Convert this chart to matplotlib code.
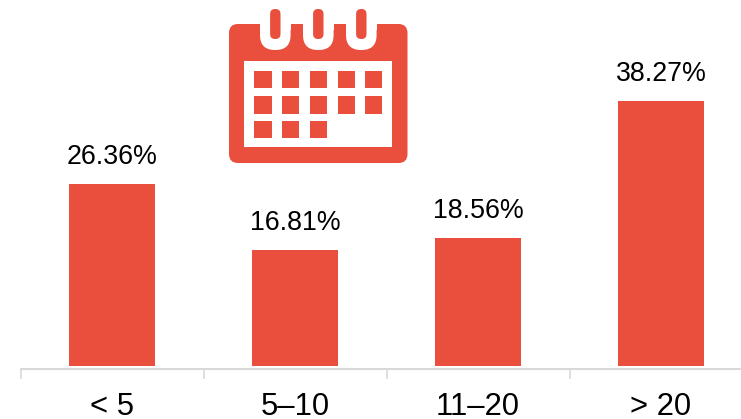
import matplotlib
matplotlib.use("Agg")
import matplotlib.pyplot as plt
from matplotlib.patches import Rectangle, FancyBboxPatch
from matplotlib.transforms import Affine2D

categories = ["< 5", "5–10", "11–20", "> 20"]
values = [26.36, 16.81, 18.56, 38.27]
RED = "#EA4F3D"
W, H = 741, 419

plt.rcParams["font.family"] = ["Liberation Sans", "DejaVu Sans"]
fig = plt.figure(figsize=(W / 100, H / 100), dpi=100)
left, bottom_px = 20.5, 366.3
ax = fig.add_axes([left / W, (H - bottom_px) / H, (W - left) / W, (bottom_px - 10) / H])
xs = list(range(len(categories)))
bars = ax.bar(xs, values, width=0.475, color=RED, linewidth=0)
ax.set_xlim(-0.5, 3.437)
ax.set_ylim(0, (bottom_px - 10) / 6.93)
for x, v in zip(xs, values):
    ax.annotate(f"{v:.2f}%", (x, v), xytext=(0, 9.8), textcoords="offset points",
                ha="center", va="bottom", fontsize=19.3, color="black")
for s in ["top", "left", "right"]:
    ax.spines[s].set_visible(False)
ax.spines["bottom"].set_color("#D9D9D9")
ax.spines["bottom"].set_linewidth(1.5)
ax.spines["bottom"].set_position(("outward", 1.6))
ax.set_yticks([])
ax.set_xticks([x - 0.5 for x in xs])
ax.set_xticklabels([])
ax.tick_params(axis="x", length=7, width=1.2, color="#D9D9D9")
ax.set_xticks(xs, minor=True)
ax.set_xticklabels(categories, minor=True, fontsize=22.3, color="black")
ax.tick_params(axis="x", which="minor", length=0, pad=17)

# calendar icon, placed in pixel coordinates from the top-left corner
px = Affine2D().scale(1 / W, -1 / H).translate(0, 1) + fig.transFigure
def add(p):
    p.set_transform(px)
    p.set_clip_on(False)
    fig.add_artist(p)
add(FancyBboxPatch((229, 24), 178.5, 139, boxstyle="round,pad=0,rounding_size=9", fc=RED, lw=0))
add(Rectangle((244, 61), 148, 86, fc="white", lw=0))
for cx in [275.3, 318.3, 361.3]:
    add(FancyBboxPatch((cx - 15.3, 10), 30.6, 40, boxstyle="round,pad=0,rounding_size=15", fc="white", lw=0))
    add(Rectangle((cx - 15.3, 10), 30.6, 20, fc="white", lw=0))
    add(FancyBboxPatch((cx - 5.2, 9), 10.4, 30, boxstyle="round,pad=0,rounding_size=5", fc=RED, lw=0))
cols = [(254, 18), (282, 17), (310, 17), (338, 17), (365, 17)]
rows = [(71, 17, 5), (96, 18, 5), (121, 17, 3)]
for y, h, n in rows:
    for x, w in cols[:n]:
        add(Rectangle((x, y), w, h, fc=RED, lw=0))

fig.savefig("out.png", dpi=100)
